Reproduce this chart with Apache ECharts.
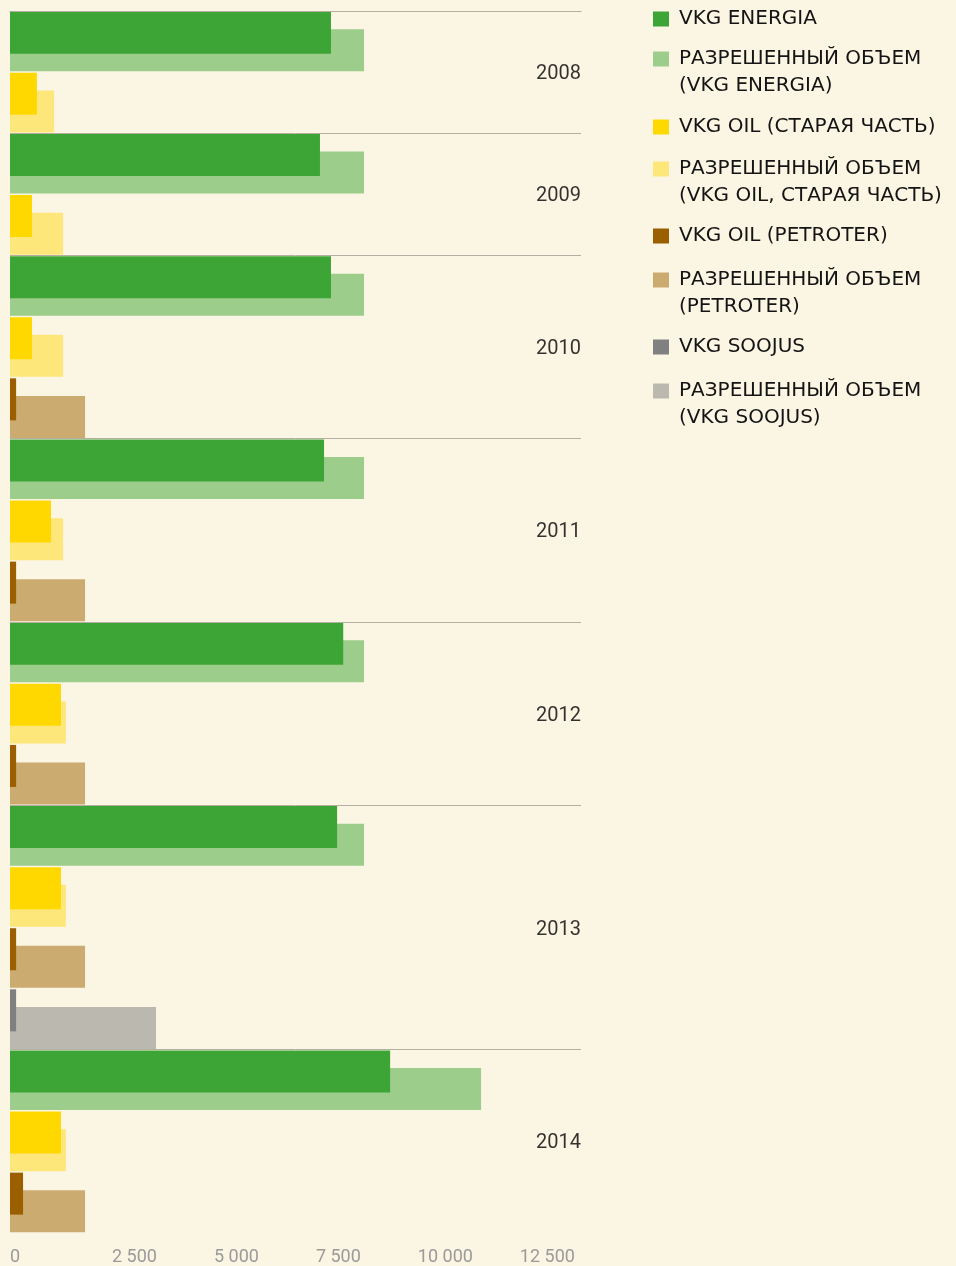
<!DOCTYPE html>
<html>
<head>
<meta charset="utf-8">
<script src="https://cdn.jsdelivr.net/npm/echarts@6/dist/echarts.min.js"></script>
<style>
  html, body { margin: 0; padding: 0; background: #fbf5e3; }
  #chart { width: 956px; height: 1266px; }
</style>
</head>
<body>
<div id="chart"></div>
<script>
const years = ['2008', '2009', '2010', '2011', '2012', '2013', '2014'];

// actual vs permitted volumes per year (null = no bar that year)
const energia = [7870, 7600, 7870, 7700, 8170, 8020, 9320];
const energiaAllowed = [8680, 8680, 8680, 8680, 8680, 8680, 11550];
const oilOld = [660, 540, 540, 1005, 1250, 1250, 1250];
const oilOldAllowed = [1080, 1300, 1300, 1300, 1370, 1370, 1370];
const petroter = [null, null, 150, 150, 150, 150, 320];
const petroterAllowed = [null, null, 1840, 1840, 1840, 1840, 1840];
const soojus = [null, null, null, null, null, 150, null];
const soojusAllowed = [null, null, null, null, null, 3580, null];

const seriesNames = [
    'VKG ENERGIA',
    'РАЗРЕШЕННЫЙ ОБЪЕМ\n(VKG ENERGIA)',
    'VKG OIL (СТАРАЯ ЧАСТЬ)',
    'РАЗРЕШЕННЫЙ ОБЪЕМ\n(VKG OIL, СТАРАЯ ЧАСТЬ)',
    'VKG OIL (PETROTER)',
    'РАЗРЕШЕННЫЙ ОБЪЕМ\n(PETROTER)',
    'VKG SOOJUS',
    'РАЗРЕШЕННЫЙ ОБЪЕМ\n(VKG SOOJUS)'
];
const seriesColors = ['#3ca535', '#9ccd8b', '#ffd800', '#fee77a', '#9b5f00', '#cbab70', '#808080', '#bbb8b0'];

const xTickStep = 2500;
const xMax = 14000;

// first-line centre of every legend entry
const legendLineY = [19, 59, 127, 169, 236, 280, 347, 391];

const pairs = [[energia, energiaAllowed], [oilOld, oilOldAllowed], [petroter, petroterAllowed], [soojus, soojusAllowed]];

// one category slot per (year, company) pair that has data
const slotData = pairs.map(() => [[], []]);
const bounds = [0];
const yearPoints = [];
let slot = 0;
years.forEach((y, yi) => {
    const start = slot;
    pairs.forEach((p, pi) => {
        if (p[0][yi] == null && p[1][yi] == null) return;
        pairs.forEach((q, qi) => {
            slotData[qi][0].push(qi === pi && p[0][yi] != null ? p[0][yi] : '-');
            slotData[qi][1].push(qi === pi && p[1][yi] != null ? p[1][yi] : '-');
        });
        slot++;
    });
    bounds.push(slot);
    yearPoints.push([xMax, (start + slot) / 2]);
});
const slotCount = slot;

const series = [];
pairs.forEach((p, pi) => {
    [0, 1].forEach(k => {
        series.push({
            name: seriesNames[pi * 2 + k],
            type: 'bar',
            yAxisIndex: 0,
            stack: k === 0 ? 'actual' : 'allowed',
            barWidth: 42,
            barGap: '-58%',
            z: k === 0 ? 4 : 3,
            itemStyle: { color: seriesColors[pi * 2 + k] },
            data: slotData[pi][k]
        });
    });
});

series.push({
    name: 'years',
    type: 'scatter',
    yAxisIndex: 1,
    symbolSize: 0,
    silent: true,
    z: 1,
    label: {
        show: true,
        position: 'left',
        distance: 0,
        offset: [0, 2],
        formatter: p => years[p.dataIndex],
        fontFamily: 'Roboto',
        fontSize: 20,
        color: '#000000'
    },
    data: yearPoints,
    markLine: {
        symbol: 'none',
        silent: true,
        label: { show: false },
        lineStyle: { color: '#b3afa3', width: 1, type: 'solid' },
        data: bounds.slice(0, -1).map(b => ({ yAxis: b }))
    }
});

// one legend per entry so two-line names can sit with the square on the first line
const legends = seriesNames.map((name, i) => {
    const twoLines = name.indexOf('\n') >= 0;
    return {
        left: 653,
        top: legendLineY[i] - (twoLines ? 40.5 : 13.5),
        padding: 0,
        orient: 'vertical',
        icon: 'rect',
        itemWidth: 16,
        itemHeight: 15,
        selectedMode: false,
        data: [name],
        formatter: n => (twoLines ? ' \n' + n : n),
        textStyle: {
            fontFamily: 'DejaVu Sans',
            fontSize: 20,
            color: '#141414',
            lineHeight: 27,
            padding: [0, 0, 0, 5]
        }
    };
});

const myChart = echarts.init(document.getElementById('chart'));
myChart.setOption({
    backgroundColor: '#fbf5e3',
    animation: false,
    legend: legends,
    grid: { left: 10, right: 375, top: 11, bottom: 32, containLabel: false },
    xAxis: {
        type: 'value',
        min: 0,
        max: xMax,
        interval: xTickStep,
        axisLine: { show: true, lineStyle: { color: '#8f949c', width: 1 } },
        axisTick: { show: false },
        splitLine: { show: false },
        axisLabel: {
            align: 'left',
            margin: 15,
            showMaxLabel: false,
            color: '#9a9a9a',
            fontFamily: 'Roboto',
            fontSize: 18,
            formatter: v => String(v).replace(/\B(?=(\d{3})+(?!\d))/g, ' ')
        }
    },
    yAxis: [
        {
            type: 'category',
            inverse: true,
            data: Array.from({ length: slotCount }, (_, i) => String(i)),
            show: false
        },
        {
            type: 'value',
            inverse: true,
            min: 0,
            max: slotCount,
            show: false,
            splitLine: { show: false }
        }
    ],
    series: series
});
</script>
</body>
</html>
